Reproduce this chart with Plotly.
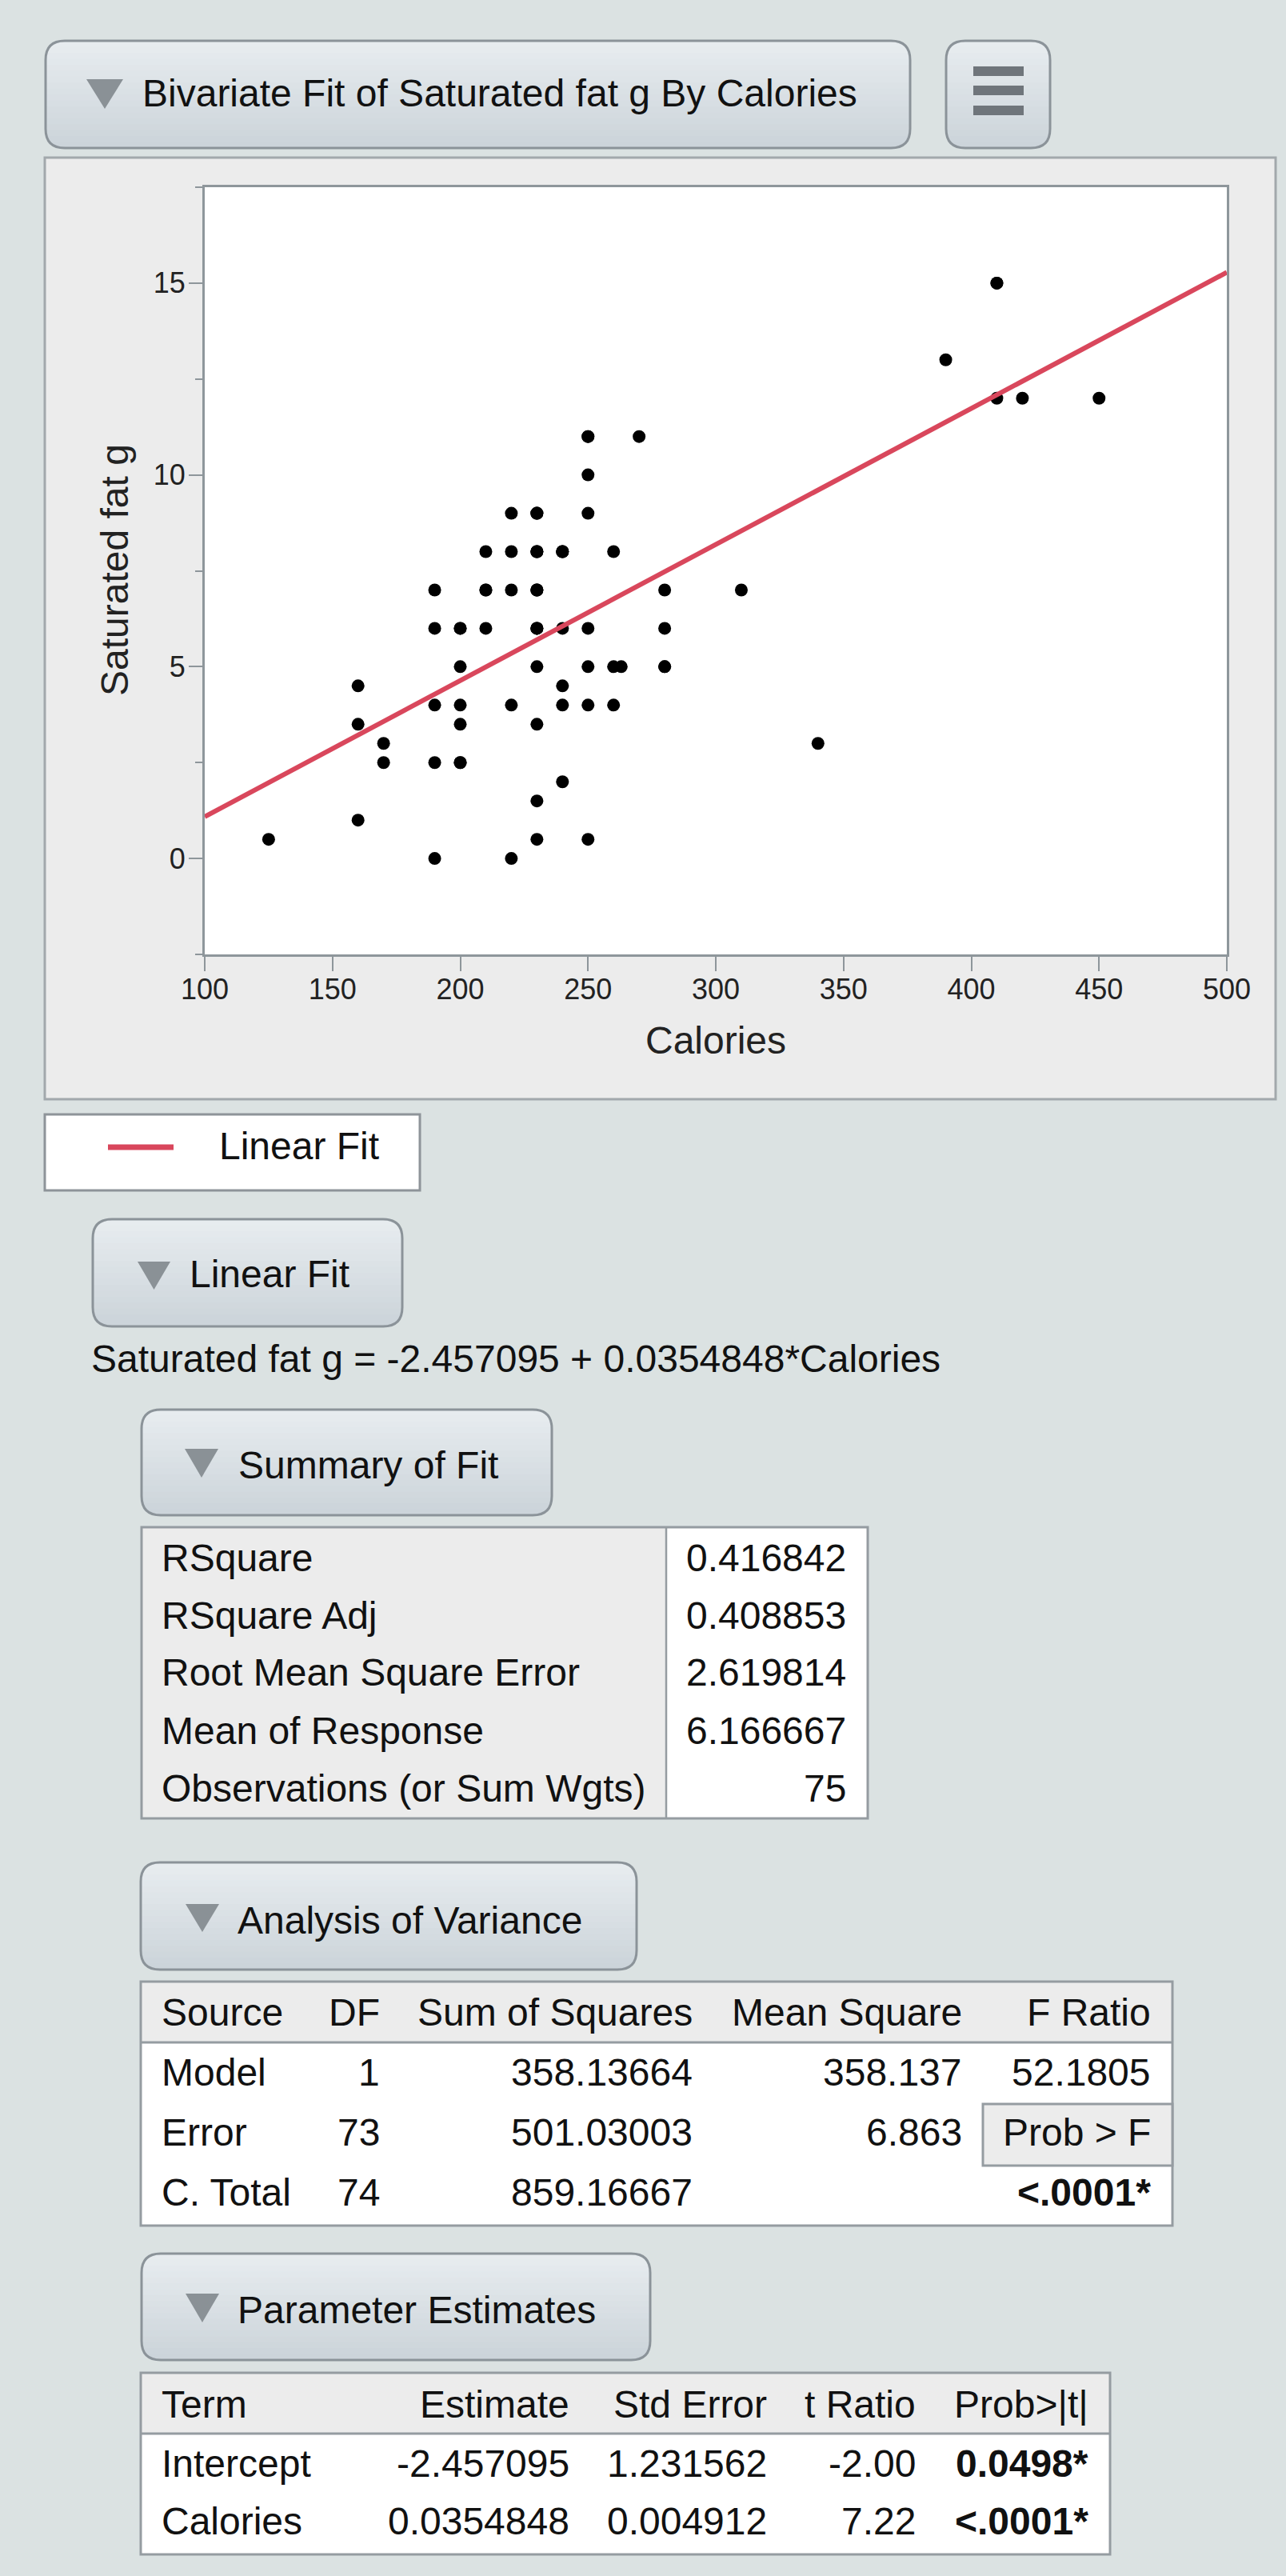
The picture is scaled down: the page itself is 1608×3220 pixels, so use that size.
import math
import plotly.graph_objects as go

calories = [410, 410,
            390,
            410, 420, 450,
            250, 250, 270,
            250,
            220, 230, 230, 230, 250,
            210, 220, 230, 230, 230, 240, 240, 240, 260,
            190, 210, 210, 220, 230, 230, 230, 280, 310,
            190, 200, 200, 210, 230, 230, 230, 240, 250, 280,
            200, 230, 250, 260, 263, 280, 280,
            160, 240,
            190, 200, 220, 240, 250, 260,
            160, 200, 230,
            170, 340,
            170, 190, 200, 200,
            240,
            230,
            160,
            125, 230, 250,
            190, 220]
sat_fat = [15, 15,
           13,
           12, 12, 12,
           11, 11, 11,
           10,
           9, 9, 9, 9, 9,
           8, 8, 8, 8, 8, 8, 8, 8, 8,
           7, 7, 7, 7, 7, 7, 7, 7, 7,
           6, 6, 6, 6, 6, 6, 6, 6, 6, 6,
           5, 5, 5, 5, 5, 5, 5,
           4.5, 4.5,
           4, 4, 4, 4, 4, 4,
           3.5, 3.5, 3.5,
           3, 3,
           2.5, 2.5, 2.5, 2.5,
           2,
           1.5,
           1,
           0.5, 0.5, 0.5,
           0, 0]
fit_x = [100, 500]
fit_y = [1.09, 15.28]

x_ticks = [100, 150, 200, 250, 300, 350, 400, 450, 500]
y_ticks = [0, 5, 10, 15]

title_text = "Bivariate Fit of Saturated fat g By Calories"
x_title = "Calories"
y_title = "Saturated fat g"
legend_label = "Linear Fit"
equation = "Saturated fat g = -2.457095 + 0.0354848*Calories"

summary_labels = ["RSquare", "RSquare Adj", "Root Mean Square Error",
                  "Mean of Response", "Observations (or Sum Wgts)"]
summary_values = ["0.416842", "0.408853", "2.619814", "6.166667", "75"]

anova_headers = ["Source", "DF", "Sum of Squares", "Mean Square", "F Ratio"]
anova_source = ["Model", "Error", "C. Total"]
anova_df = ["1", "73", "74"]
anova_ss = ["358.13664", "501.03003", "859.16667"]
anova_ms = ["358.137", "6.863", ""]
anova_f = "52.1805"
anova_prob_label = "Prob &gt; F"
anova_prob = "&lt;.0001*"

pe_headers = ["Term", "Estimate", "Std Error", "t Ratio", "Prob&gt;|t|"]
pe_terms = ["Intercept", "Calories"]
pe_est = ["-2.457095", "0.0354848"]
pe_se = ["1.231562", "0.004912"]
pe_t = ["-2.00", "7.22"]
pe_p = ["0.0498*", "&lt;.0001*"]

# ---------------- helpers ----------------
W, H = 1608, 3220
FONT = "Liberation Sans, Arial, Helvetica, sans-serif"
FS = 48
BG = "#dbe2e2"
BORDER = "#959ca1"


def X(p):
    return p / W


def Y(p):
    return 1 - p / H


def P(x, y):
    return f"{X(x):.6f},{Y(y):.6f}"


shapes = []
annotations = []


def add_rect(x0, y0, x1, y1, fill=None, line=None, lw=0):
    shapes.append(dict(type="rect", xref="paper", yref="paper",
                       x0=X(x0), x1=X(x1), y0=Y(y1), y1=Y(y0),
                       fillcolor=fill or "rgba(0,0,0,0)",
                       line=dict(color=line or "rgba(0,0,0,0)", width=lw),
                       layer="below"))


def add_line(x0, y0, x1, y1, color, lw):
    shapes.append(dict(type="line", xref="paper", yref="paper",
                       x0=X(x0), x1=X(x1), y0=Y(y0), y1=Y(y1),
                       line=dict(color=color, width=lw), layer="below"))


def rrect_path(x0, y0, x1, y1, r):
    return (f"M {P(x0+r, y0)} L {P(x1-r, y0)} Q {P(x1, y0)} {P(x1, y0+r)} "
            f"L {P(x1, y1-r)} Q {P(x1, y1)} {P(x1-r, y1)} L {P(x0+r, y1)} "
            f"Q {P(x0, y1)} {P(x0, y1-r)} L {P(x0, y0+r)} Q {P(x0, y0)} {P(x0+r, y0)} Z")


def inset(y, y0, y1, r):
    if y < y0 + r:
        d = y0 + r - y
    elif y > y1 - r:
        d = y - (y1 - r)
    else:
        d = 0
    d = min(d, r)
    return r - math.sqrt(max(r * r - d * d, 0))


def text(x, y, s, size=FS, anchor="left", bold=False, color="#111111", angle=0):
    annotations.append(dict(x=X(x), y=Y(y), xref="paper", yref="paper",
                            text=f"<b>{s}</b>" if bold else s, showarrow=False,
                            xanchor=anchor, yanchor="middle", textangle=angle,
                            font=dict(size=size, color=color, family=FONT)))


def button(x0, y0, x1, y1, r=24, top=(232, 237, 240), bot=(203, 211, 217)):
    n = 18
    for i in range(n):
        ya = y0 + (y1 - y0) * i / n
        yb = min(y1, y0 + (y1 - y0) * (i + 1) / n + 0.8)
        t = (i + 0.5) / n
        c = tuple(int(round(top[k] + (bot[k] - top[k]) * t)) for k in range(3))
        ys = [ya + (yb - ya) * k / 4 for k in range(5)]
        pts = [(x0 + inset(yy, y0, y1, r), yy) for yy in ys] + \
              [(x1 - inset(yy, y0, y1, r), yy) for yy in reversed(ys)]
        path = "M " + " L ".join(P(px_, py_) for px_, py_ in pts) + " Z"
        shapes.append(dict(type="path", xref="paper", yref="paper", path=path,
                           fillcolor=f"rgb{c}", line=dict(width=0), layer="below"))
    shapes.append(dict(type="path", xref="paper", yref="paper",
                       path=rrect_path(x0, y0, x1, y1, r),
                       fillcolor="rgba(0,0,0,0)",
                       line=dict(color="#8b9399", width=3), layer="below"))


def triangle(x0, y0, x1, y1, color="#8a9196"):
    path = f"M {P(x0, y0)} L {P(x1, y0)} L {P((x0+x1)/2, y1)} Z"
    shapes.append(dict(type="path", xref="paper", yref="paper", path=path,
                       fillcolor=color, line=dict(width=0), layer="below"))


# ---------------- report header ----------------
button(57, 51, 1138, 185)
triangle(108, 99, 154, 136)
text(176, 117, title_text)

button(1183, 51, 1313, 185)
for (ya, yb) in [(83, 95), (107, 119), (132, 144)]:
    add_rect(1217, ya, 1280, yb, fill="#6f757b")

# ---------------- plot panel ----------------
add_rect(56, 197, 1595, 1374, fill="#ececec", line="#a2a8ac", lw=3)
add_rect(256, 234, 1534, 1193, fill="#ffffff")
text(895, 1300, x_title, anchor="center", color="#222222")
text(143, 713, y_title, anchor="center", color="#222222", angle=-90)

# legend box
add_rect(56, 1393, 525, 1488, fill="#ffffff", line="#8e9499", lw=3)
add_line(135, 1434, 217, 1434, "#d9475c", 7)
text(272, 1432, legend_label)

# ---------------- Linear Fit ----------------
button(116, 1524, 503, 1658)
triangle(172, 1577, 213, 1612)
text(235, 1593, "Linear Fit")
text(112, 1698, equation)

# ---------------- Summary of Fit ----------------
button(177, 1762, 690, 1894)
triangle(231, 1811, 273, 1847)
text(296, 1831, "Summary of Fit")

add_rect(177, 1909, 833, 2273, fill="#ececec")
add_rect(833, 1909, 1085, 2273, fill="#ffffff")
add_rect(177, 1909, 1085, 2273, line=BORDER, lw=3)
add_line(833, 1909, 833, 2273, BORDER, 2.5)
row_y = [1947, 2019, 2090, 2163, 2235]
for yy, lab, val in zip(row_y, summary_labels, summary_values):
    text(200, yy, lab)
    text(1060, yy, val, anchor="right")

# ---------------- Analysis of Variance ----------------
button(176, 2328, 796, 2462)
triangle(232, 2380, 274, 2415)
text(295, 2400, "Analysis of Variance")

add_rect(176, 2477, 1466, 2553, fill="#ececec")
add_rect(176, 2553, 1466, 2782, fill="#ffffff")
add_rect(176, 2477, 1466, 2782, line=BORDER, lw=3)
add_line(176, 2553, 1466, 2553, BORDER, 3)
add_rect(1229, 2630, 1466, 2707, fill="#ececec", line=BORDER, lw=3)

col_x = [200, 477, 868, 1205, 1441]
col_anchor = ["left", "right", "right", "right", "right"]
for cx, an, h in zip(col_x, col_anchor, anova_headers):
    text(cx, 2515, h, anchor=an)
anova_rows_y = [2590, 2665, 2740]
for i, yy in enumerate(anova_rows_y):
    text(col_x[0], yy, anova_source[i])
    text(col_x[1], yy, anova_df[i], anchor="right")
    text(col_x[2], yy, anova_ss[i], anchor="right")
    if anova_ms[i]:
        text(col_x[3], yy, anova_ms[i], anchor="right")
text(col_x[4], anova_rows_y[0], anova_f, anchor="right")
text(col_x[4], anova_rows_y[1], anova_prob_label, anchor="right")
text(col_x[4], anova_rows_y[2], anova_prob, anchor="right", bold=True)

# ---------------- Parameter Estimates ----------------
button(177, 2817, 813, 2950)
triangle(232, 2867, 274, 2903)
text(295, 2887, "Parameter Estimates")

add_rect(176, 2966, 1388, 3042, fill="#ececec")
add_rect(176, 3042, 1388, 3193, fill="#ffffff")
add_rect(176, 2966, 1388, 3193, line=BORDER, lw=3)
add_line(176, 3042, 1388, 3042, BORDER, 3)

pe_col_x = [200, 714, 961, 1147, 1363]
for cx, an, h in zip(pe_col_x, col_anchor, pe_headers):
    text(cx, 3005, h, anchor=an)
pe_rows_y = [3079, 3151]
for i, yy in enumerate(pe_rows_y):
    text(pe_col_x[0], yy, pe_terms[i])
    text(pe_col_x[1], yy, pe_est[i], anchor="right")
    text(pe_col_x[2], yy, pe_se[i], anchor="right")
    text(pe_col_x[3], yy, pe_t[i], anchor="right")
    text(pe_col_x[4], yy, pe_p[i], anchor="right", bold=True)

# ---------------- figure ----------------
fig = go.Figure()
fig.add_trace(go.Scatter(x=calories, y=sat_fat, mode="markers",
                         marker=dict(size=16, color="#000000", line=dict(width=0)),
                         showlegend=False, hoverinfo="x+y"))
fig.add_trace(go.Scatter(x=fit_x, y=fit_y, mode="lines",
                         line=dict(color="#d9475c", width=6),
                         showlegend=False, name=legend_label))

AX = "#8e969b"
fig.update_layout(
    width=W, height=H, autosize=False,
    margin=dict(l=0, r=0, t=0, b=0, pad=0, autoexpand=False),
    paper_bgcolor=BG, plot_bgcolor="#ffffff",
    font=dict(family=FONT, color="#222222"),
    showlegend=False,
    shapes=shapes, annotations=annotations,
    xaxis=dict(domain=[X(256), X(1534)], range=[100, 500],
               tickmode="array", tickvals=x_ticks,
               ticktext=[str(v) for v in x_ticks],
               ticks="outside", ticklen=18, tickwidth=2, tickcolor=AX,
               ticklabelstandoff=-8, automargin=False,
               showline=True, linecolor=AX, linewidth=3, mirror=True,
               showgrid=False, zeroline=False,
               tickfont=dict(size=36, color="#222222", family=FONT)),
    yaxis=dict(domain=[Y(1193), Y(234)], range=[-2.5, 17.5],
               tickmode="array", tickvals=y_ticks,
               ticktext=[str(v) for v in y_ticks],
               ticks="outside", ticklen=17, tickwidth=2, tickcolor=AX,
               ticklabelstandoff=-3, automargin=False,
               minor=dict(tickvals=[-2.5, 2.5, 7.5, 12.5, 17.5], ticks="outside",
                          ticklen=9, tickwidth=2, tickcolor=AX),
               showline=True, linecolor=AX, linewidth=3, mirror=True,
               showgrid=False, zeroline=False,
               tickfont=dict(size=36, color="#222222", family=FONT)),
)

fig.write_html("out.html", config={"displayModeBar": False},
               post_script="document.body.style.margin='0px';")
